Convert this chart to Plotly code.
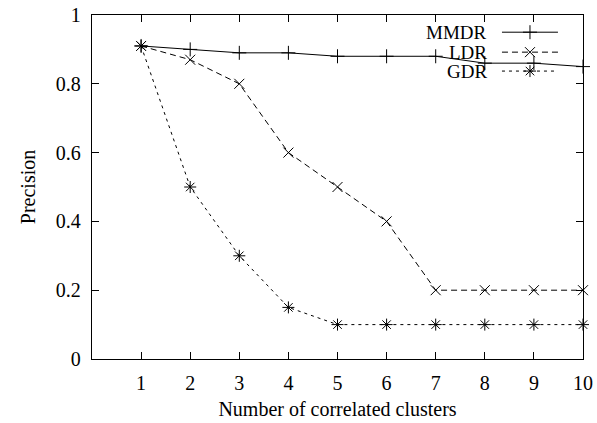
import plotly.graph_objects as go

clusters = [1, 2, 3, 4, 5, 6, 7, 8, 9, 10]
mmdr = [0.91, 0.90, 0.89, 0.89, 0.88, 0.88, 0.88, 0.86, 0.86, 0.85]
ldr = [0.91, 0.87, 0.80, 0.60, 0.50, 0.40, 0.20, 0.20, 0.20, 0.20]
gdr = [0.91, 0.50, 0.30, 0.15, 0.10, 0.10, 0.10, 0.10, 0.10, 0.10]

series = [
    ("MMDR", mmdr, "solid", "cross-thin-open"),
    ("LDR", ldr, "6px,4px", "x-thin-open"),
    ("GDR", gdr, "3px,4px", "asterisk-open"),
]

FONT = "Times New Roman, Liberation Serif, serif"
FSIZE = 20
fig = go.Figure()

for name, vals, dash, sym in series:
    fig.add_trace(go.Scatter(
        x=clusters, y=vals, mode="lines+markers", name=name,
        line=dict(color="black", width=1, dash=dash),
        marker=dict(symbol=sym, size=10, color="black",
                    line=dict(color="black", width=1)),
        showlegend=False, cliponaxis=False,
    ))

# key in the top-right corner: label then a line sample with its marker
key_x0, key_x1 = 0.835, 0.949
row_y = [0.950, 0.892, 0.837]
for (name, vals, dash, sym), ky in zip(series, row_y):
    fig.add_trace(go.Scatter(
        x=[key_x0, key_x1], y=[ky, ky], xaxis="x2", yaxis="y2",
        mode="lines", line=dict(color="black", width=1, dash=dash),
        showlegend=False, hoverinfo="skip",
    ))
    fig.add_trace(go.Scatter(
        x=[(key_x0 + key_x1) / 2], y=[ky], xaxis="x2", yaxis="y2",
        mode="markers",
        marker=dict(symbol=sym, size=10, color="black",
                    line=dict(color="black", width=1)),
        showlegend=False, hoverinfo="skip",
    ))
    fig.add_annotation(
        x=0.806, y=ky, xref="paper", yref="paper", text=name,
        showarrow=False, xanchor="right", yanchor="middle", borderpad=0,
        font=dict(family=FONT, size=19, color="black"),
    )

axis_common = dict(
    showline=True, linecolor="black", linewidth=1.3, mirror="ticks",
    ticks="inside", ticklen=7, tickwidth=1, tickcolor="black",
    showgrid=False, zeroline=False, automargin=False,
    tickfont=dict(family=FONT, size=FSIZE, color="black"),
)

fig.update_layout(
    width=597, height=423,
    margin=dict(l=92, r=14, t=15, b=64),
    paper_bgcolor="white", plot_bgcolor="white",
    xaxis=dict(range=[0, 10], tickvals=clusters, ticklabelstandoff=6,
               title=dict(text="Number of correlated clusters",
                          font=dict(family=FONT, size=FSIZE, color="black"),
                          standoff=8),
               **axis_common),
    yaxis=dict(range=[0, 1], tickvals=[0, 0.2, 0.4, 0.6, 0.8, 1],
               ticktext=["0", "0.2", "0.4", "0.6", "0.8", "1"],
               ticklabelstandoff=6,
               title=dict(text="Precision",
                          font=dict(family=FONT, size=FSIZE, color="black"),
                          standoff=14),
               **axis_common),
    xaxis2=dict(range=[0, 1], overlaying="x", visible=False),
    yaxis2=dict(range=[0, 1], overlaying="y", visible=False),
)

fig.write_html("out.html")
